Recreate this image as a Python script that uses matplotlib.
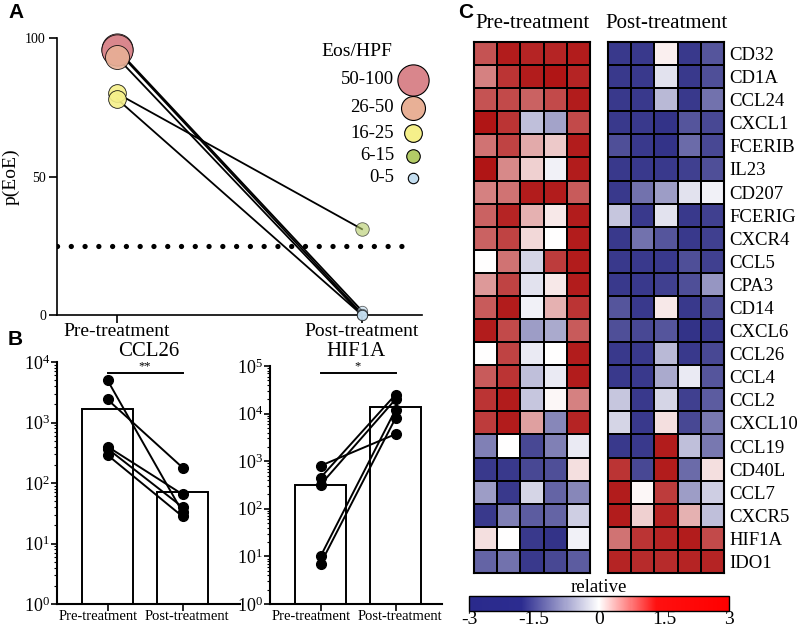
import numpy as np
import matplotlib
matplotlib.use("Agg")
import matplotlib.pyplot as plt
from matplotlib.colors import LinearSegmentedColormap, Normalize
from matplotlib.cm import ScalarMappable

plt.rcParams['font.family'] = ['Liberation Serif', 'DejaVu Serif']
plt.rcParams['mathtext.fontset'] = 'stix'

# ---------------- data ----------------
groups = ["Pre-treatment", "Post-treatment"]

# Panel A: p(EoE) paired values and Eos/HPF category index
peoe_pre = [96, 95.5, 93, 80, 78]
peoe_post = [1.5, 0.5, 0, 31, 0]
eos_cat_pre = [0, 0, 1, 2, 2]
eos_cat_post = [4, 4, 4, 3, 4]
eos_labels = ["50-100", "26-50", "16-25", "6-15", "0-5"]
eos_colors = ["#d9868c", "#e8b096", "#f5f08a", "#b3cb66", "#c4def0"]
eos_sizes = [30, 23, 17, 13, 10]  # marker diameters

# Panel B
ccl26_pre = [5000, 2400, 400, 370, 290]
ccl26_post = [33, 180, 65, 40, 28]
ccl26_bars = [1700, 70]
hif1a_pre = [800, 450, 320, 10, 7]
hif1a_post = [3700, 25000, 20000, 12000, 8000]
hif1a_bars = [320, 14000]

# Panel C
genes = ["CD32", "CD1A", "CCL24", "CXCL1", "FCERIB", "IL23", "CD207", "FCERIG",
         "CXCR4", "CCL5", "CPA3", "CD14", "CXCL6", "CCL26", "CCL4", "CCL2",
         "CXCL10", "CCL19", "CD40L", "CCL7", "CXCR5", "HIF1A", "IDO1"]
heat_pre = [
    [2.2, 2.9, 2.8, 2.8, 2.9],
    [1.6, 2.6, 2.9, 3.0, 2.8],
    [2.2, 2.3, 2.0, 2.3, 2.9],
    [3.0, 2.6, -0.9, -1.3, 2.3],
    [1.8, 2.4, 1.1, 0.7, 2.9],
    [3.0, 1.5, 0.6, -0.2, 2.9],
    [1.6, 1.8, 2.9, 2.9, 2.1],
    [2.0, 2.8, 1.0, 0.3, 2.9],
    [2.0, 2.4, 0.5, 0.0, 2.9],
    [0.0, 1.8, -0.6, 2.5, 2.9],
    [1.3, 2.4, -0.4, 0.3, 2.9],
    [2.1, 2.9, -0.2, 1.0, 2.6],
    [2.9, 2.3, -1.4, -1.2, 2.1],
    [0.0, 2.4, -0.3, 0.0, 2.9],
    [2.1, 2.6, -0.9, -0.3, 2.9],
    [2.6, 2.9, -0.8, 0.1, 1.6],
    [2.5, 2.9, 1.2, -1.7, 2.8],
    [-1.8, 0.0, -2.6, -1.8, -0.3],
    [-2.8, -2.8, -2.6, -2.5, 0.4],
    [-1.4, -2.8, -0.6, -2.2, -1.7],
    [-2.8, -1.8, -2.3, -2.2, -0.7],
    [0.4, 0.0, -2.8, -2.9, -0.2],
    [-2.2, -2.0, -2.8, -2.6, -2.3],
]
heat_post = [
    [-2.8, -2.8, 0.2, -2.8, -2.4],
    [-2.8, -2.8, -0.4, -2.8, -2.5],
    [-2.8, -2.8, -1.0, -2.8, -2.0],
    [-2.8, -2.8, -2.9, -2.4, -2.6],
    [-2.5, -2.8, -2.9, -2.1, -2.6],
    [-2.8, -2.8, -2.8, -2.7, -2.5],
    [-2.8, -2.0, -1.4, -0.4, -0.2],
    [-0.8, -2.8, -0.4, -2.8, -2.7],
    [-2.8, -2.0, -2.4, -2.8, -2.7],
    [-2.8, -2.8, -2.8, -2.5, -2.7],
    [-2.8, -2.8, -2.7, -2.5, -1.5],
    [-2.4, -2.8, 0.3, -2.8, -2.5],
    [-2.5, -2.6, -2.4, -2.9, -2.8],
    [-2.8, -2.8, -1.0, -2.8, -2.6],
    [-2.8, -2.8, -1.2, -0.3, -2.4],
    [-0.8, -2.8, -0.6, -2.7, -2.3],
    [-0.6, -2.8, 0.4, -2.6, -1.9],
    [-2.8, -2.8, 2.9, -0.9, -1.9],
    [2.6, -2.6, 2.9, -2.1, 0.4],
    [2.9, 0.1, 2.5, -1.4, -0.7],
    [2.9, 0.6, 2.8, 1.0, -0.9],
    [1.8, 2.6, 2.8, 2.9, 2.3],
    [2.8, 2.7, 2.7, 2.8, 2.8],
]
cbar_ticks = [-3, -1.5, 0, 1.5, 3]
cbar_ticklabels = ["-3", "-1.5", "0", "1.5", "3"]

# ---------------- figure ----------------
W, H = 799, 627
fig = plt.figure(figsize=(W / 100, H / 100), dpi=100)


def ax_px(x0, y0, x1, y1):
    return fig.add_axes([x0 / W, 1 - y1 / H, (x1 - x0) / W, (y1 - y0) / H])


# ---------- Panel A ----------
axA = ax_px(57, 38, 422, 315)
axA.set_xlim(-0.245, 1.245)
axA.set_ylim(0, 100)
for i in range(len(peoe_pre)):
    axA.plot([0, 1], [peoe_pre[i], peoe_post[i]], color="black", lw=1.3, zorder=2)
for i in range(len(peoe_pre)):
    c = eos_cat_pre[i]
    axA.plot(0, peoe_pre[i], 'o', ms=eos_sizes[c] * 0.75, mfc=eos_colors[c], mec="black",
             mew=0.6, alpha=0.9, zorder=3, clip_on=False)
    c = eos_cat_post[i]
    axA.plot(1, peoe_post[i], 'o', ms=eos_sizes[c] * 0.75, mfc=eos_colors[c], mec="black",
             mew=0.6, alpha=0.6, zorder=3, clip_on=False)
axA.axhline(25, xmin=0, xmax=0.97, color="black", lw=3.8, ls=(0, (0.01, 2.6)),
            dash_capstyle='round', zorder=1)
axA.spines['top'].set_visible(False)
axA.spines['right'].set_visible(False)
axA.set_xticks([0, 1])
axA.set_xticklabels(groups, fontsize=14)
axA.set_yticks([0, 50, 100])
axA.tick_params(axis='y', labelsize=10, length=6, width=1.2, pad=2)
axA.tick_params(axis='x', length=6, width=1.2, pad=0)
for s in ['left', 'bottom']:
    axA.spines[s].set_linewidth(1.2)
axA.set_ylabel("p(EoE)", fontsize=14)
axA.yaxis.set_label_coords(-(57 - 20) / (422 - 57), 0.5)


def A_xy(px, py):
    return ((px - 57) / (422 - 57), (315 - py) / (315 - 38))


axA.text(*A_xy(357, 52), "Eos/HPF", transform=axA.transAxes, fontsize=14, ha='center', va='center')
leg_y = [80, 108, 133, 156, 178]
for k, lab in enumerate(eos_labels):
    axA.text(*A_xy(394, leg_y[k]), lab, transform=axA.transAxes, fontsize=13.5, ha='right', va='center')
    axA.plot(*A_xy(413, leg_y[k]), 'o', transform=axA.transAxes, ms=eos_sizes[k] * 0.75,
             mfc=eos_colors[k], mec="black", mew=0.8, clip_on=False)


# ---------- Panel B ----------
def bar_panel(x0, top, x1, pre, post, bars, ymax_exp, title, stars, pre_px, step, sig_px, tpad):
    ax = ax_px(x0, top, x1, 604)
    left = -(pre_px - x0) / step
    right = (x1 - pre_px) / step
    ax.set_xlim(left, right)
    ax.set_yscale('log')
    ax.set_ylim(1, 10 ** ymax_exp)
    ax.bar([0, 1], bars, width=0.67, color='white', edgecolor='black', lw=1.4, zorder=1)
    for a, b in zip(pre, post):
        ax.plot([0, 1], [a, b], color='black', lw=1.4, marker='o', ms=7, zorder=3)
    ax.spines['top'].set_visible(False)
    ax.spines['right'].set_visible(False)
    for s in ['left', 'bottom']:
        ax.spines[s].set_linewidth(1.5)
    ax.set_xticks([0, 1])
    ax.set_xticklabels([])
    ax.tick_params(axis='x', length=5, width=1.2)
    tr = ax.get_xaxis_transform()
    yl = -(617 - 604) / (604 - top)
    ax.text(-0.12, yl, groups[0], transform=tr, fontsize=10.5, ha='center', va='center')
    ax.text(1.06, yl, groups[1], transform=tr, fontsize=10.5, ha='center', va='center')
    ax.tick_params(axis='y', which='major', labelsize=13, length=4, width=1.2, pad=1)
    ax.tick_params(axis='y', which='minor', length=2, width=0.8)
    ax.set_yticks([10 ** k for k in range(ymax_exp + 1)])
    ax.set_title(title, fontsize=15, pad=tpad)
    fy = (604 - sig_px) / (604 - top)
    ax.plot([0, 1], [fy, fy], transform=tr, color='black', lw=1.4, clip_on=False)
    ax.text(0.5, fy + 0.002, stars, transform=tr, ha='center', va='bottom', fontsize=9)
    return ax


bar_panel(57, 362, 240, ccl26_pre, ccl26_post, ccl26_bars, 4, "CCL26", "**", 107.5, 75, 373, 4)
bar_panel(270, 366, 442, hif1a_pre, hif1a_post, hif1a_bars, 5, "HIF1A", "*", 320.5, 75, 373, 7)

# ---------- Panel C ----------
cell_cmap = LinearSegmentedColormap.from_list(
    "cell", [(0.0, "#2c2c84"), (0.5, "#ffffff"), (1.0, "#b01515")])
bar_cmap = LinearSegmentedColormap.from_list(
    "bar", [(0.0, "#2a2a8c"), (0.2, "#2c2c90"), (0.5, "#ffffff"), (0.72, "#ff1010"), (1.0, "#ff0000")])
norm = Normalize(-3, 3)

for (x0, x1, data, title) in [(474, 590, heat_pre, groups[0]), (608, 724, heat_post, groups[1])]:
    ax = ax_px(x0, 42, x1, 573)
    arr = np.array(data)
    ax.pcolormesh(arr, cmap=cell_cmap, norm=norm, edgecolors='black', linewidth=1.2)
    ax.set_xlim(0, arr.shape[1])
    ax.set_ylim(arr.shape[0], 0)
    ax.set_xticks([])
    ax.set_yticks([])
    for s in ax.spines.values():
        s.set_linewidth(1.5)
    ax.set_title(title, fontsize=15, pad=10)
    if x0 == 608:
        ax.yaxis.tick_right()
        ax.set_yticks(np.arange(len(genes)) + 0.5)
        ax.set_yticklabels(genes, fontsize=13.5)
        ax.tick_params(axis='y', length=0, pad=4)

cax = ax_px(469, 596, 729, 611)
cb = fig.colorbar(ScalarMappable(norm=norm, cmap=bar_cmap), cax=cax, orientation='horizontal')
cb.set_ticks(cbar_ticks)
cb.set_ticklabels(cbar_ticklabels)
cb.ax.tick_params(labelsize=14, length=0, pad=0)
cb.outline.set_linewidth(1.0)
cax.set_title("relative", fontsize=13.5, pad=0)

# panel letters
for lab, x, y in [("A", 8, 12), ("B", 8, 339), ("C", 458, 12)]:
    fig.text(x / W, 1 - y / H, lab, fontsize=15, fontweight='bold', family='Liberation Sans',
             ha='left', va='center')

fig.savefig("out.png", dpi=100)
